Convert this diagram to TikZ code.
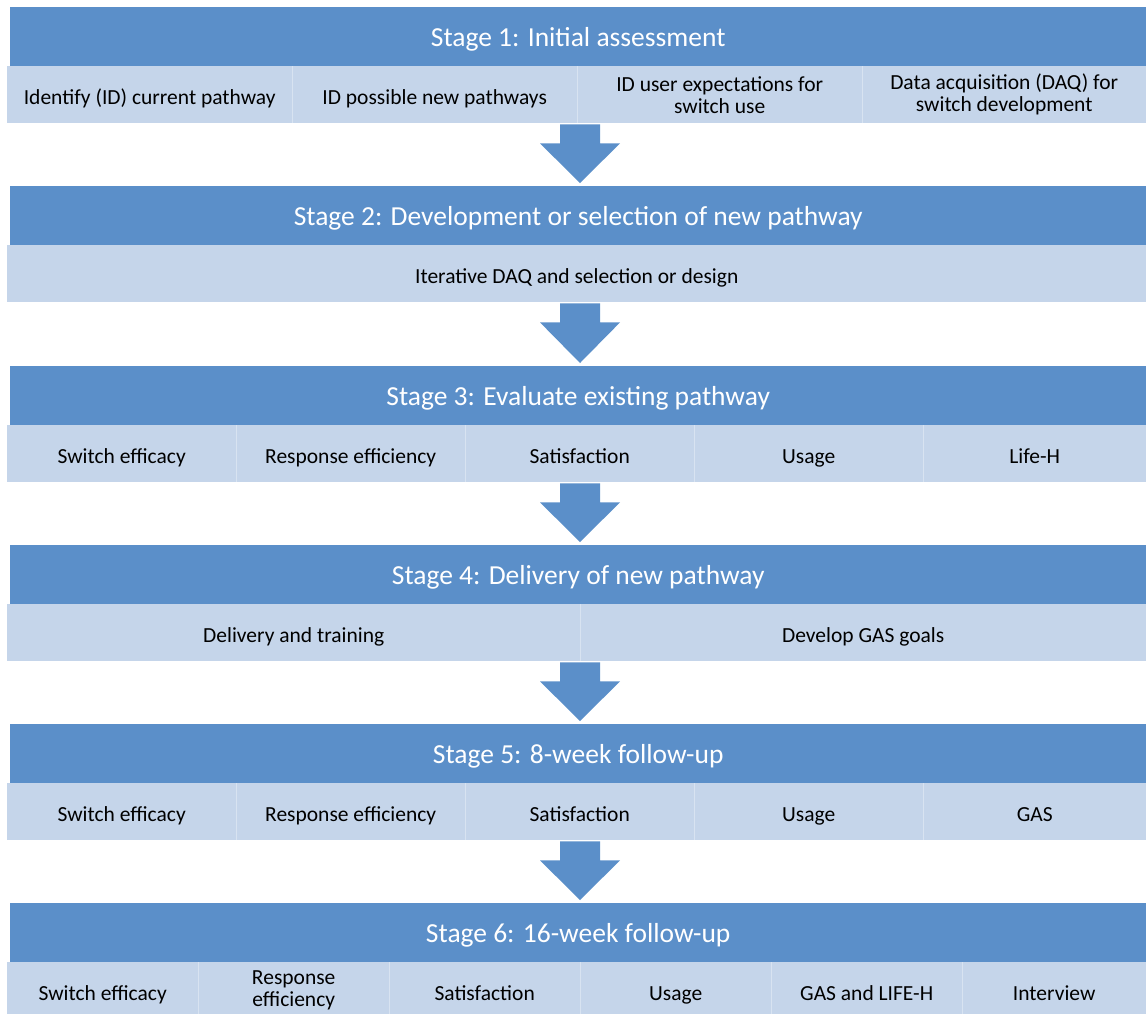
\documentclass[tikz,border=0pt]{standalone}
\usepackage{fontspec}
\setmainfont{Carlito}
\usetikzlibrary{calc}
\definecolor{hdr}{RGB}{91,143,201}
\definecolor{cellc}{RGB}{197,213,234}
\definecolor{divc}{RGB}{216,227,241}
\begin{document}
\begin{tikzpicture}[x=1pt,y=-1pt,
  hdrbox/.style={fill=hdr, text=white, font=\fontsize{27.5}{30}\selectfont, minimum height=59pt, minimum width=1136pt, inner sep=0pt, anchor=north west, text height=22pt, text depth=2pt},
  rowbox/.style={fill=cellc, minimum height=57pt, minimum width=1139pt, inner sep=0pt, anchor=north west},
  twoline/.style={text=black, font=\fontsize{21.5}{22}\selectfont, minimum height=57pt, inner sep=0pt, anchor=north west, align=center},
  cellbox/.style={twoline, text height=19pt, text depth=0pt},
  divline/.style={draw=divc, line width=1.5pt},
  flowarr/.style={fill=hdr}
]
\useasboundingbox (0,0) rectangle (1146,1013);
\begin{scope}
\clip (0,0) rectangle (1146,1013);
% Stage 1
\node[hdrbox] (h1) at (10,7) {Stage 1: Initial assessment};
\node[rowbox] (r1) at (7,66) {};
\node[cellbox, minimum width=285pt] (c11) at (7,66) {Identify (ID) current pathway};
\node[cellbox, minimum width=285pt] (c12) at (292,66) {ID possible new pathways};
\node[twoline, minimum width=285pt] (c13) at (577,66) {ID user expectations for\\switch use};
\node[twoline, minimum width=284pt] (c14) at (862,66) {Data acquisition (DAQ) for\\switch development};
\foreach \c in {c11,c12,c13} \draw[divline] (\c.north east) -- (\c.south east);
% Stage 2
\node[hdrbox] (h2) at (10,186) {Stage 2: Development or selection of new pathway};
\node[rowbox] (r2) at (7,245) {};
\node[cellbox, minimum width=1139pt] (c21) at (7,245) {Iterative DAQ and selection or design};
% Stage 3
\node[hdrbox] (h3) at (10,366) {Stage 3: Evaluate existing pathway};
\node[rowbox] (r3) at (7,425) {};
\node[cellbox, minimum width=229pt] (c31) at (7,425) {Switch efficacy};
\node[cellbox, minimum width=229pt] (c32) at (236,425) {Response efficiency};
\node[cellbox, minimum width=229pt] (c33) at (465,425) {Satisfaction};
\node[cellbox, minimum width=229pt] (c34) at (694,425) {Usage};
\node[cellbox, minimum width=223pt] (c35) at (923,425) {Life-H};
\foreach \c in {c31,c32,c33,c34} \draw[divline] (\c.north east) -- (\c.south east);
% Stage 4
\node[hdrbox] (h4) at (10,545) {Stage 4: Delivery of new pathway};
\node[rowbox] (r4) at (7,604) {};
\node[cellbox, minimum width=573pt] (c41) at (7,604) {Delivery and training};
\node[cellbox, minimum width=566pt] (c42) at (580,604) {Develop GAS goals};
\draw[divline] (c41.north east) -- (c41.south east);
% Stage 5
\node[hdrbox] (h5) at (10,724) {Stage 5: 8-week follow-up};
\node[rowbox] (r5) at (7,783) {};
\node[cellbox, minimum width=229pt] (c51) at (7,783) {Switch efficacy};
\node[cellbox, minimum width=229pt] (c52) at (236,783) {Response efficiency};
\node[cellbox, minimum width=229pt] (c53) at (465,783) {Satisfaction};
\node[cellbox, minimum width=229pt] (c54) at (694,783) {Usage};
\node[cellbox, minimum width=223pt] (c55) at (923,783) {GAS};
\foreach \c in {c51,c52,c53,c54} \draw[divline] (\c.north east) -- (\c.south east);
% Stage 6
\node[hdrbox] (h6) at (10,903) {Stage 6: 16-week follow-up};
\node[rowbox] (r6) at (7,962) {};
\node[cellbox, minimum width=191pt] (c61) at (7,962) {Switch efficacy};
\node[twoline, minimum width=191pt] (c62) at (198,962) {Response\\efficiency};
\node[cellbox, minimum width=191pt] (c63) at (389,962) {Satisfaction};
\node[cellbox, minimum width=191pt] (c64) at (580,962) {Usage};
\node[cellbox, minimum width=191pt] (c65) at (771,962) {GAS and LIFE-H};
\node[cellbox, minimum width=184pt] (c66) at (962,962) {Interview};
\foreach \c in {c61,c62,c63,c64,c65} \draw[divline] (\c.north east) -- (\c.south east);
% Arrows
\foreach \a/\b in {r1/h2,r2/h3,r3/h4,r4/h5,r5/h6}{
  \path (\a.south -| 580,0) coordinate (as) (\b.north -| 580,0) coordinate (ae);
  \fill[flowarr] ($(as)+(-20,1)$) -- ($(as)+(20,1)$) -- ($(as)+(20,20)$) -- ($(as)+(40,20)$)
     -- ($(ae)+(0,-3)$) -- ($(as)+(-40,20)$) -- ($(as)+(-20,20)$) -- cycle;
}
\end{scope}
\end{tikzpicture}
\end{document}
